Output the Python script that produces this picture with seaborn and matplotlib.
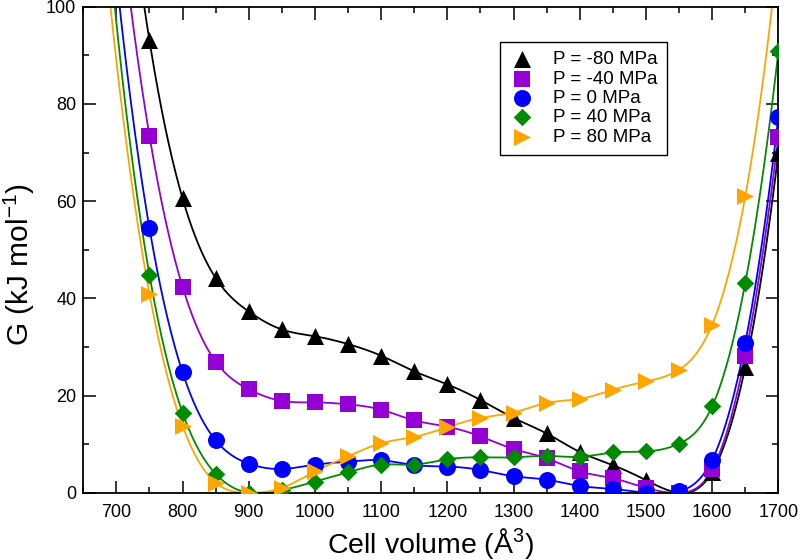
import matplotlib

matplotlib.use("Agg")
import matplotlib.pyplot as plt
import numpy as np
import pandas as pd
import seaborn as sns

# cell volumes (A^3) and free energies (kJ/mol)
volumes = [750, 800, 850, 900, 950, 1000, 1050, 1100, 1150, 1200,
           1250, 1300, 1350, 1400, 1450, 1500, 1550, 1600, 1650, 1700]
g_m80 = [93.1, 60.6, 44.2, 37.3, 33.6, 32.2, 30.6, 28.2, 25.0, 22.3,
         19.1, 15.4, 12.2, 8.4, 5.7, 2.6, 0.0, 4.3, 25.9, 70.0]
g_m40 = [73.5, 42.4, 27.0, 21.3, 18.9, 18.6, 18.2, 17.1, 14.9, 13.6,
         11.6, 9.0, 7.1, 4.4, 3.0, 1.0, 0.0, 4.8, 28.2, 73.3]
g_0 = [54.5, 24.8, 10.8, 6.0, 4.9, 5.8, 6.4, 6.7, 5.7, 5.4,
       4.7, 3.4, 2.7, 1.4, 0.8, 0.0, 0.3, 6.8, 30.9, 77.4]
g_40 = [44.9, 16.5, 3.9, 0.0, 0.5, 2.3, 4.2, 5.8, 5.8, 6.9,
        7.3, 7.3, 7.6, 7.4, 8.3, 8.5, 10.1, 17.8, 43.2, 90.8]
g_80 = [41.0, 13.8, 2.1, 0.0, 1.0, 4.4, 7.5, 10.2, 11.5, 13.5,
        15.4, 16.5, 18.5, 19.3, 21.2, 22.9, 25.3, 34.6, 61.0, 112.0]

labels = ["P = -80 MPa", "P = -40 MPa", "P = 0 MPa", "P = 40 MPa", "P = 80 MPa"]
series = [g_m80, g_m40, g_0, g_40, g_80]

styles = {
    "P = -80 MPa": {"color": "#000000", "marker": "^", "s": 150},
    "P = -40 MPa": {"color": "#9400d3", "marker": "s", "s": 120},
    "P = 0 MPa": {"color": "#0000ff", "marker": "o", "s": 150},
    "P = 40 MPa": {"color": "#008b00", "marker": "D", "s": 80},
    "P = 80 MPa": {"color": "#ffa500", "marker": ">", "s": 150},
}


def spline(x, y, xs):
    # cubic spline with not-a-knot ends, used only to draw the smooth line
    x = np.asarray(x, float)
    y = np.asarray(y, float)
    m = len(x) - 1
    A = np.zeros((4 * m, 4 * m))
    b = np.zeros(4 * m)
    r = 0
    for i in range(m):
        h = x[i + 1] - x[i]
        A[r, 4 * i] = 1
        b[r] = y[i]
        r += 1
        A[r, 4 * i:4 * i + 4] = [1, h, h ** 2, h ** 3]
        b[r] = y[i + 1]
        r += 1
    for i in range(m - 1):
        h = x[i + 1] - x[i]
        A[r, 4 * i:4 * i + 4] = [0, 1, 2 * h, 3 * h ** 2]
        A[r, 4 * (i + 1) + 1] = -1
        r += 1
        A[r, 4 * i:4 * i + 4] = [0, 0, 2, 6 * h]
        A[r, 4 * (i + 1) + 2] = -2
        r += 1
    A[r, 3] = 1
    A[r, 7] = -1
    r += 1
    A[r, 4 * (m - 2) + 3] = 1
    A[r, 4 * (m - 1) + 3] = -1
    c = np.linalg.solve(A, b).reshape(m, 4)
    idx = np.clip(np.searchsorted(x, xs) - 1, 0, m - 1)
    t = xs - x[idx]
    return c[idx, 0] + c[idx, 1] * t + c[idx, 2] * t ** 2 + c[idx, 3] * t ** 3


sns.set_theme(style="ticks")
plt.rcParams["font.family"] = ["Liberation Sans", "DejaVu Sans"]
plt.rcParams["mathtext.fontset"] = "custom"
plt.rcParams["mathtext.rm"] = "Liberation Sans"
plt.rcParams["mathtext.it"] = "Liberation Sans:italic"
for key in ["text.color", "axes.labelcolor", "xtick.color", "ytick.color",
            "xtick.labelcolor", "ytick.labelcolor"]:
    plt.rcParams[key] = "black"

fig = plt.figure(figsize=(8, 5.6), dpi=100)
ax = fig.add_axes([0.104, 0.12, 0.869, 0.868])

xs = np.linspace(690, 1700, 800)
for lab, g in zip(labels, series):
    st = styles[lab]
    curve = pd.DataFrame({"V": xs, "G": spline(volumes, g, xs)})
    sns.lineplot(data=curve, x="V", y="G", color=st["color"], linewidth=1.3,
                 legend=False, ax=ax, sort=False)
for lab, g in zip(labels, series):
    st = styles[lab]
    pts = pd.DataFrame({"V": volumes, "G": g})
    sns.scatterplot(data=pts, x="V", y="G", color=st["color"], marker=st["marker"],
                    s=st["s"], linewidth=0, label=lab, ax=ax, zorder=3)

ax.set_xlim(650, 1700)
ax.set_ylim(0, 100)
ax.set_xticks(range(700, 1701, 100))
ax.set_xticks(range(650, 1701, 50), minor=True)
ax.set_yticks(range(0, 101, 20))
ax.set_yticks(range(0, 101, 10), minor=True)
ax.tick_params(which="both", direction="in", top=True, right=True, width=1.1,
               labelsize=13, colors="black")
ax.tick_params(which="major", length=9, pad=5)
ax.tick_params(axis="x", which="major", pad=8)
ax.tick_params(which="minor", length=4.5)
for sp in ax.spines.values():
    sp.set_linewidth(1.3)
    sp.set_color("black")

ax.set_xlabel("Cell volume (Å$^3$)", fontsize=20.5, labelpad=4, color="black")
ax.set_ylabel("G (kJ mol$^{-1}$)", fontsize=21.5, color="black")
ax.yaxis.set_label_coords(-0.066, 0.47)

leg = ax.legend(loc="upper left", bbox_to_anchor=(0.6, 0.928), borderaxespad=0,
                fontsize=13.5, frameon=True, fancybox=False, framealpha=1,
                edgecolor="black", labelspacing=0.12, handletextpad=1.0,
                borderpad=0.5, handlelength=1.3)
leg.get_frame().set_linewidth(1.0)
for t in leg.get_texts():
    t.set_color("black")

fig.savefig("out.png", dpi=100)
